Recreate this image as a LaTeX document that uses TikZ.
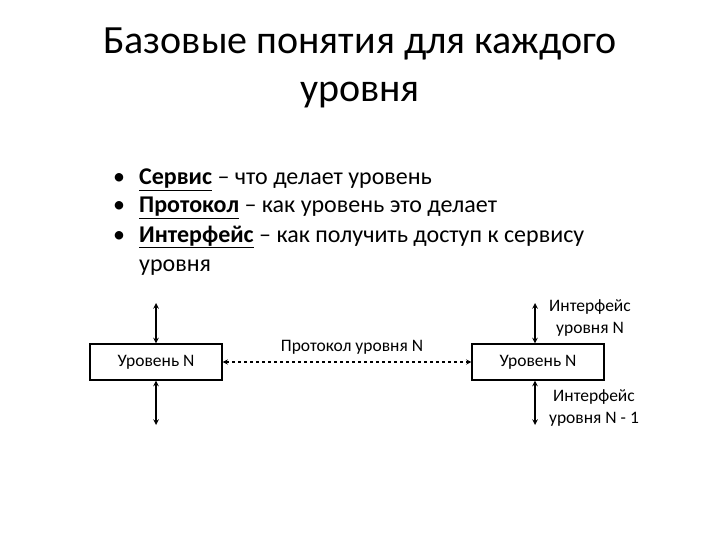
\documentclass[tikz,border=0pt]{standalone}
\usepackage{fontspec}
\setmainfont{Carlito}
\begin{document}
\begin{tikzpicture}[x=1pt,y=-1pt,
  box/.style={draw,line width=1.3pt,minimum width=132pt,minimum height=36pt,inner sep=0pt,font=\fontsize{17.5}{20}\selectfont},
  lbl/.style={font=\fontsize{17.5}{22}\selectfont,align=center},
  bul/.style={anchor=base west,font=\fontsize{24}{28}\selectfont,inner sep=0pt},
  arr/.style={line width=1.5pt,<->,>=stealth}]
\useasboundingbox (0,0) rectangle (720,540);
\node[font=\fontsize{40}{48}\selectfont,align=center] (title) at (360,68) {Базовые понятия для каждого\\уровня};
\foreach \y/\t [count=\i] in {185/{\textbf{\underline{Сервис}} – что делает уровень},213/{\textbf{\underline{Протокол}} – как уровень это делает},242/{\textbf{\underline{Интерфейс}} – как получить доступ к сервису}}{
  \node[bul] (d\i) at (113,\y) {•};
  \node[bul] (b\i) at (139,\y) {\t};
}
\node[bul] (b4) at (139,271) {уровня};
\node[box] (L) at (156,362) {Уровень N};
\node[box] (R) at (538,362) {Уровень N};
\coordinate (Lt) at (156,303); \coordinate (Lb) at (156,425);
\coordinate (Rt) at (535,303); \coordinate (Rb) at (535,425);
\draw[arr] (Lt) -- (L.north -| Lt);
\draw[arr] (L.south -| Lb) -- (Lb);
\draw[arr] (Rt) -- (R.north -| Rt);
\draw[arr] (R.south -| Rb) -- (Rb);
\draw[arr,dashed,line width=1.3pt] (L.east) -- (R.west);
\node[lbl] (p) at (352,347) {Протокол уровня N};
\node[lbl] (ri) at (590,318) {Интерфейс\\уровня N};
\node[lbl] (rb) at (594,408) {Интерфейс\\уровня N - 1};
\end{tikzpicture}
\end{document}
